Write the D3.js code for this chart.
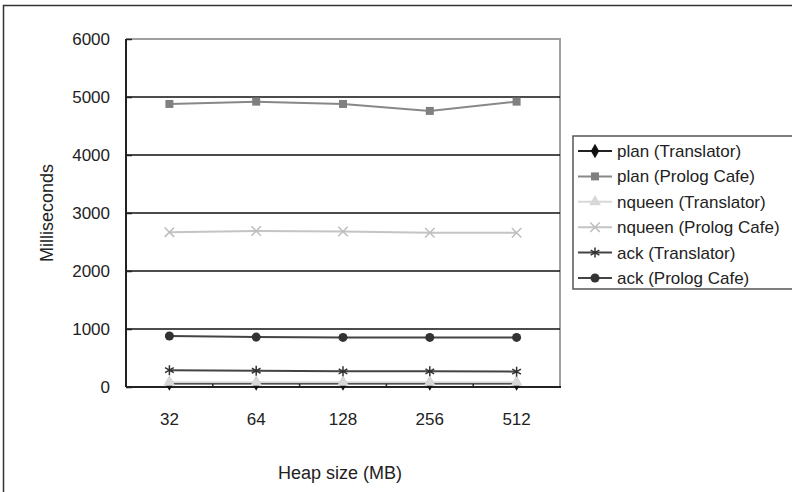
<!DOCTYPE html>
<html>
<head>
<meta charset="utf-8">
<script src="https://cdn.jsdelivr.net/npm/d3@7"></script>
<style>
  body { margin: 0; background: #fff; }
  svg { display: block; }
  text { font-family: "Liberation Sans", Arial, sans-serif; fill: #222; }
</style>
</head>
<body>
<svg id="chart" width="792" height="492"></svg>
<script>
const heapSizes = ['32', '64', '128', '256', '512'];
const yTicks = [0, 1000, 2000, 3000, 4000, 5000, 6000];

const planTranslator = [60, 60, 60, 60, 60];
const planPrologCafe = [4880, 4920, 4880, 4760, 4920];
const nqueenTranslator = [80, 80, 80, 80, 80];
const nqueenPrologCafe = [2670, 2690, 2680, 2660, 2660];
const ackTranslator = [290, 280, 270, 270, 265];
const ackPrologCafe = [880, 860, 855, 855, 855];

const series = [
  { name: 'plan (Translator)', values: planTranslator, color: '#111', line: '#222', symbol: d3.symbolDiamond, size: 60, fill: true },
  { name: 'plan (Prolog Cafe)', values: planPrologCafe, color: '#808080', line: '#888', symbol: d3.symbolSquare, size: 64, fill: true },
  { name: 'nqueen (Translator)', values: nqueenTranslator, color: '#d8d8d8', line: '#d8d8d8', symbol: d3.symbolTriangle, size: 60, fill: true },
  { name: 'nqueen (Prolog Cafe)', values: nqueenPrologCafe, color: '#bdbdbd', line: '#c4c4c4', symbol: d3.symbolTimes, size: 60, fill: false },
  { name: 'ack (Translator)', values: ackTranslator, color: '#333', line: '#444', symbol: d3.symbolAsterisk, size: 70, fill: false },
  { name: 'ack (Prolog Cafe)', values: ackPrologCafe, color: '#333', line: '#444', symbol: d3.symbolCircle, size: 64, fill: true }
];

const plot = { left: 126, right: 560, top: 39, bottom: 387 };

const svg = d3.select('#chart');

// outer frame (right and bottom run off the picture)
svg.append('rect')
  .attr('x', 3.5).attr('y', 5.5)
  .attr('width', 800).attr('height', 500)
  .attr('fill', 'none').attr('stroke', '#333').attr('stroke-width', 1.5);

const x = d3.scaleBand()
  .domain(heapSizes)
  .range([plot.left, plot.right]);

const y = d3.scaleLinear()
  .domain([0, 6000])
  .range([plot.bottom, plot.top]);

// plot area border (grey right and top)
svg.append('path')
  .attr('d', `M${plot.left},${plot.top}H${plot.right}V${plot.bottom}`)
  .attr('fill', 'none').attr('stroke', '#a0a0a0').attr('stroke-width', 2);

// gridlines
svg.append('g')
  .selectAll('line')
  .data(yTicks.filter((d) => d > 0 && d < 6000))
  .enter()
  .append('line')
  .attr('x1', plot.left).attr('x2', plot.right)
  .attr('y1', (d) => y(d)).attr('y2', (d) => y(d))
  .attr('stroke', '#111').attr('stroke-width', 1.4);

// y axis
const yAxis = svg.append('g')
  .attr('transform', `translate(${plot.left}, 0)`)
  .call(d3.axisRight(y).tickValues(yTicks).tickSize(6).tickFormat(''));
yAxis.select('.domain').remove();
yAxis.selectAll('line').attr('stroke', '#222').attr('stroke-width', 1.5);

svg.append('g')
  .selectAll('text')
  .data(yTicks)
  .enter()
  .append('text')
  .attr('x', 110)
  .attr('y', (d) => y(d) + 6)
  .attr('text-anchor', 'end')
  .attr('font-size', 17)
  .text((d) => d);

svg.append('line')
  .attr('x1', plot.left).attr('x2', plot.left)
  .attr('y1', plot.top).attr('y2', plot.bottom)
  .attr('stroke', '#222').attr('stroke-width', 2);

// x axis
const xAxis = svg.append('g')
  .attr('transform', `translate(0, ${plot.bottom})`)
  .call(d3.axisTop(x).tickSize(0).tickFormat(''));
xAxis.select('.domain').remove();

svg.append('g')
  .selectAll('line')
  .data(heapSizes.slice(1))
  .enter()
  .append('line')
  .attr('x1', (d) => x(d)).attr('x2', (d) => x(d))
  .attr('y1', plot.bottom).attr('y2', plot.bottom - 5)
  .attr('stroke', '#222').attr('stroke-width', 1.5);

svg.append('line')
  .attr('x1', plot.left).attr('x2', plot.right + 1)
  .attr('y1', plot.bottom).attr('y2', plot.bottom)
  .attr('stroke', '#222').attr('stroke-width', 2);

svg.append('g')
  .selectAll('text')
  .data(heapSizes)
  .enter()
  .append('text')
  .attr('x', (d) => x(d) + x.bandwidth() / 2)
  .attr('y', 425)
  .attr('text-anchor', 'middle')
  .attr('font-size', 17)
  .text((d) => d);

svg.append('text')
  .attr('x', 340)
  .attr('y', 479)
  .attr('text-anchor', 'middle')
  .attr('font-size', 18)
  .text('Heap size (MB)');

svg.append('text')
  .attr('transform', 'translate(53, 213) rotate(-90)')
  .attr('text-anchor', 'middle')
  .attr('font-size', 18)
  .text('Milliseconds');

// series
const cx = (i) => x(heapSizes[i]) + x.bandwidth() / 2;
const line = d3.line()
  .x((d, i) => cx(i))
  .y((d) => y(d));

const drawMarker = (g, s, px, py) => {
  g.append('path')
    .attr('d', d3.symbol().type(s.symbol).size(s.size)())
    .attr('transform', `translate(${px}, ${py})`)
    .attr('fill', s.fill ? s.color : 'none')
    .attr('stroke', s.color)
    .attr('stroke-width', s.fill ? 0 : 1.5);
};

const marks = svg.append('g');
for (const s of series) {
  marks.append('path')
    .attr('d', line(s.values))
    .attr('fill', 'none')
    .attr('stroke', s.line)
    .attr('stroke-width', 2);
}
for (const s of series) {
  const g = marks.append('g');
  s.values.forEach((v, i) => drawMarker(g, s, cx(i), y(v)));
}

// legend
const legend = svg.append('g');
legend.append('rect')
  .attr('x', 573).attr('y', 136)
  .attr('width', 240).attr('height', 153)
  .attr('fill', '#fff').attr('stroke', '#555').attr('stroke-width', 1.5);

const legendY = d3.scaleLinear().domain([0, 5]).range([151, 278]);
series.forEach((s, i) => {
  const ly = legendY(i);
  legend.append('line')
    .attr('x1', 578).attr('x2', 612)
    .attr('y1', ly).attr('y2', ly)
    .attr('stroke', s.line).attr('stroke-width', 2);
  drawMarker(legend, s, 595, ly);
  legend.append('text')
    .attr('x', 617)
    .attr('y', ly + 6)
    .attr('font-size', 17)
    .text(s.name);
});
</script>
</body>
</html>
